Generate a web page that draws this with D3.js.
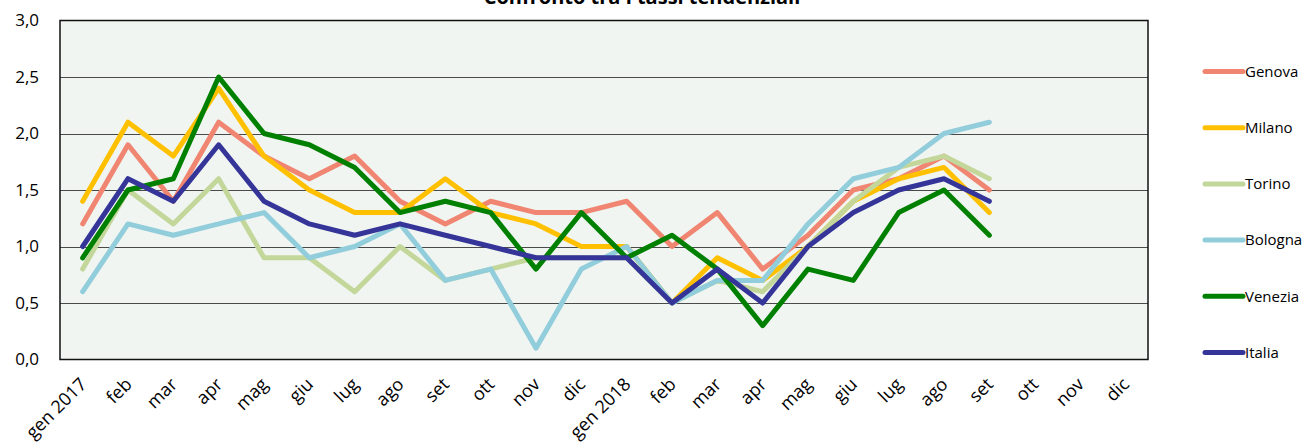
<!DOCTYPE html>
<html>
<head>
<meta charset="utf-8">
<script src="https://cdn.jsdelivr.net/npm/d3@7"></script>
<style>
  html, body { margin: 0; padding: 0; background: #ffffff; }
  svg { display: block; }
  text { font-family: "Open Sans", "Liberation Sans", sans-serif; fill: #000; }
</style>
</head>
<body>
<svg id="chart" width="1307" height="445"></svg>
<script>
const categories = ["gen 2017","feb","mar","apr","mag","giu","lug","ago","set","ott","nov","dic",
                    "gen 2018","feb ","mar ","apr ","mag ","giu ","lug ","ago ","set ","ott ","nov ","dic "];
const tickLabels = ["gen 2017","feb","mar","apr","mag","giu","lug","ago","set","ott","nov","dic",
                    "gen 2018","feb","mar","apr","mag","giu","lug","ago","set","ott","nov","dic"];
const yTicks = [0, 0.5, 1.0, 1.5, 2.0, 2.5, 3.0];

const genova  = [1.2,1.9,1.4,2.1,1.8,1.6,1.8,1.4,1.2,1.4,1.3,1.3,1.4,1.0,1.3,0.8,1.1,1.5,1.6,1.8,1.5];
const milano  = [1.4,2.1,1.8,2.4,1.8,1.5,1.3,1.3,1.6,1.3,1.2,1.0,1.0,0.5,0.9,0.7,1.0,1.4,1.6,1.7,1.3];
const torino  = [0.8,1.5,1.2,1.6,0.9,0.9,0.6,1.0,0.7,0.8,0.9,0.9,0.9,0.5,0.7,0.6,1.0,1.4,1.7,1.8,1.6];
const bologna = [0.6,1.2,1.1,1.2,1.3,0.9,1.0,1.2,0.7,0.8,0.1,0.8,1.0,0.5,0.7,0.7,1.2,1.6,1.7,2.0,2.1];
const venezia = [0.9,1.5,1.6,2.5,2.0,1.9,1.7,1.3,1.4,1.3,0.8,1.3,0.9,1.1,0.8,0.3,0.8,0.7,1.3,1.5,1.1];
const italia  = [1.0,1.6,1.4,1.9,1.4,1.2,1.1,1.2,1.1,1.0,0.9,0.9,0.9,0.5,0.8,0.5,1.0,1.3,1.5,1.6,1.4];

const seriesNames  = ["Genova","Milano","Torino","Bologna","Venezia","Italia"];
const seriesValues = [genova, milano, torino, bologna, venezia, italia];
const seriesColors = ["#F08572","#FFC000","#C4D79B","#92CDDC","#008000","#353599"];

const svg = d3.select("#chart");
const plot = {left: 60, right: 1148, top: 20.5, bottom: 359.5};

const x = d3.scaleBand().domain(categories).range([plot.left, plot.right]).padding(0);
const y = d3.scaleLinear().domain([0, 3]).range([plot.bottom, plot.top]);

// plot background
svg.append("rect")
  .attr("x", plot.left).attr("y", plot.top)
  .attr("width", plot.right - plot.left).attr("height", plot.bottom - plot.top)
  .attr("fill", "#F0F5F1");

// gridlines
svg.append("g")
  .selectAll("line")
  .data(yTicks.filter(d => d > 0 && d < 3))
  .join("line")
  .attr("x1", plot.left).attr("x2", plot.right)
  .attr("y1", d => Math.round(y(d)) + 0.5).attr("y2", d => Math.round(y(d)) + 0.5)
  .attr("stroke", "#4a4a4a").attr("stroke-width", 1);

// title (partly above the top edge, as in the reference)
svg.append("text")
  .attr("x", 642).attr("y", 4)
  .attr("text-anchor", "middle")
  .style("font-size", "20px").style("font-weight", "bold")
  .text("Confronto tra i tassi tendenziali");

// lines
const line = d3.line()
  .x((d, i) => x(categories[i]) + x.bandwidth() / 2)
  .y(d => y(d));

seriesValues.forEach((vals, k) => {
  svg.append("path")
    .datum(vals)
    .attr("d", line)
    .attr("fill", "none")
    .attr("stroke", seriesColors[k])
    .attr("stroke-width", 5)
    .attr("stroke-linejoin", "round")
    .attr("stroke-linecap", "round");
});

// plot border
svg.append("rect")
  .attr("x", plot.left).attr("y", plot.top)
  .attr("width", plot.right - plot.left).attr("height", plot.bottom - plot.top)
  .attr("fill", "none").attr("stroke", "#111").attr("stroke-width", 1.5);

// y axis labels
const yAxis = d3.axisLeft(y).tickValues(yTicks)
  .tickFormat(d => d3.format(".1f")(d).replace(".", ","))
  .tickSize(0).tickPadding(21);
const yg = svg.append("g").attr("transform", `translate(${plot.left},0)`).call(yAxis);
yg.select(".domain").remove();
yg.selectAll("text").style("font-size", "17px").style("font-family", "'Open Sans', sans-serif").attr("fill", "#000");

// x axis labels
const xAxis = d3.axisBottom(x).tickSize(0).tickFormat((d, i) => tickLabels[i]);
const xg = svg.append("g").attr("transform", `translate(0,${plot.bottom})`).call(xAxis);
xg.select(".domain").remove();
xg.selectAll("text")
  .style("font-size", "18px").style("font-family", "'Open Sans', sans-serif").attr("fill", "#000")
  .attr("text-anchor", "end")
  .attr("dy", null).attr("y", 0)
  .attr("transform", "translate(5,26) rotate(-45)");

// legend
const legend = svg.append("g");
seriesNames.forEach((name, k) => {
  const ly = 71.5 + k * 56.2;
  legend.append("line")
    .attr("x1", 1205).attr("x2", 1243)
    .attr("y1", ly).attr("y2", ly)
    .attr("stroke", seriesColors[k]).attr("stroke-width", 5)
    .attr("stroke-linecap", "round");
  legend.append("text")
    .attr("x", 1245).attr("y", ly).attr("dy", "0.35em")
    .style("font-size", "15px")
    .text(name);
});
</script>
</body>
</html>
